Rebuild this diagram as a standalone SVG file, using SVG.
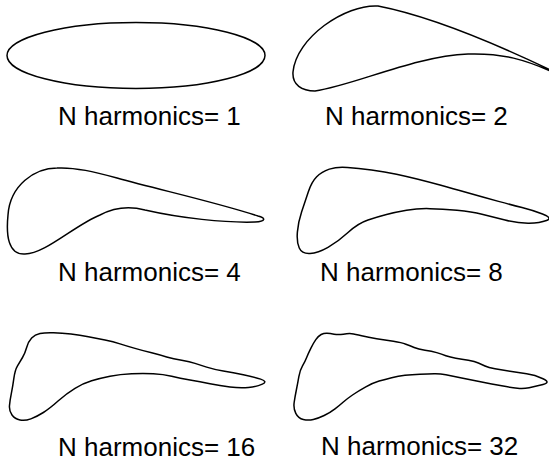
<svg xmlns="http://www.w3.org/2000/svg" width="549" height="458" viewBox="0 0 549 458">
<style>
.shape{fill:none;stroke:#000;stroke-width:1.5;stroke-linejoin:round}
.lbl{font-family:"Liberation Sans",Arial,sans-serif;font-size:26px;fill:#000}
</style>
<rect width="549" height="458" fill="#fff"/>
<g id="panel-n1">
<ellipse class="shape" cx="136" cy="55.5" rx="129" ry="33"/>
<text class="lbl" x="58" y="125">N harmonics= 1</text>
</g>
<g id="panel-n2">
<path class="shape" d="M 565 77 C 520 55, 440 18, 378 6 C 345 4, 296 38, 293 72 C 292 85, 302 91, 315 91 C 355 85, 415 56, 468 54 C 500 53, 525 58, 565 78 Z"/>
<text class="lbl" x="325" y="125">N harmonics= 2</text>
</g>
<g id="panel-n4">
<path class="shape" d="M 258 216 C 215 202, 160 190, 117 178 C 95 172, 75 167, 57 168 C 35 168, 10 185, 8 215 C 6 235, 8 255, 25 254 C 45 254, 75 225, 100 215 C 115 207, 130 206, 145 210 C 180 218, 225 223, 255 222 C 266 221.5, 266 218, 258 216 Z"/>
<text class="lbl" x="58" y="281">N harmonics= 4</text>
</g>
<g id="panel-n8">
<path class="shape" d="M 542.5 214 Q 532 210 522 207.5 Q 512 205 498.5 201.35 Q 485 197.7 468.5 193 Q 452 188.3 440 185 Q 428 181.7 418 179.2 Q 408 176.7 396.5 174.2 Q 385 171.7 371.5 170 Q 358 168.3 347.5 167.4 Q 337 166.5 329.35 169.1 Q 321.7 171.7 316.7 176.7 Q 311.7 181.7 308.35 191.7 Q 305 201.7 301.65 211.7 Q 298.3 221.7 297.4 231.85 Q 296.5 242 299.25 248 Q 302 254 310 253.5 Q 318 253 328 247.35 Q 338 241.7 348 232.5 Q 358 223.3 368 220 Q 378 216.7 386.5 214.5 Q 395 212.3 406.5 210.3 Q 418 208.3 430 208.65 Q 442 209 457 210.35 Q 472 211.7 482 214.2 Q 492 216.7 505 220 Q 518 223.3 529 223.15 Q 540 223 546.5 220.5 Q 553 218 542.5 214 Z"/>
<text class="lbl" x="320" y="281">N harmonics= 8</text>
</g>
<g id="panel-n16">
<path class="shape" d="M 260.65 379.1 Q 253.3 376.7 243.3 374.7 Q 233.3 372.7 223.3 371 Q 213.3 369.3 206.65 367.15 Q 200 365 195 363.35 Q 190 361.7 181.65 360.35 Q 173.3 359 166.65 357 Q 160 355 151.65 352.85 Q 143.3 350.7 135 348.35 Q 126.7 346 120 343.85 Q 113.3 341.7 105 340 Q 96.7 338.3 88.35 336.65 Q 80 335 71 334 Q 62 333 53.5 332.75 Q 45 332.5 40 333.5 Q 35 334.5 31.65 338.1 Q 28.3 341.7 26.65 347.5 Q 25 353.3 22.5 357.5 Q 20 361.7 17.5 365.85 Q 15 370 13.85 378.35 Q 12.7 386.7 11.35 393.35 Q 10 400 9.5 405.5 Q 9 411 12 415 Q 15 419 20 420 Q 25 421 30.85 418.85 Q 36.7 416.7 43.35 412.5 Q 50 408.3 58.35 400.8 Q 66.7 393.3 75 388.3 Q 83.3 383.3 91.65 380.8 Q 100 378.3 110 376.3 Q 120 374.3 131.65 373.8 Q 143.3 373.3 153.3 373.8 Q 163.3 374.3 171.65 376.3 Q 180 378.3 190 380 Q 200 381.7 210 383.7 Q 220 385.7 230 387 Q 240 388.3 248.35 387.5 Q 256.7 386.7 262.35 384.1 Q 268 381.5 260.65 379.1 Z"/>
<text class="lbl" x="58" y="455.5">N harmonics= 16</text>
</g>
<g id="panel-n32">
<path class="shape" d="M 543 378.75 Q 535 375 526.65 373.85 Q 518.3 372.7 510 371.35 Q 501.7 370 495 368.85 Q 488.3 367.7 485 366 Q 481.7 364.3 478.35 363 Q 475 361.7 468.35 360.35 Q 461.7 359 455.85 358.15 Q 450 357.3 445.85 355.8 Q 441.7 354.3 436.7 352.65 Q 431.7 351 425 350.15 Q 418.3 349.3 414.15 347.5 Q 410 345.7 405.85 344.2 Q 401.7 342.7 393.35 341.35 Q 385 340 376.65 338.65 Q 368.3 337.3 361.65 335.65 Q 355 334 351.65 333.65 Q 348.3 333.3 343.3 334.15 Q 338.3 335 334.15 334.15 Q 330 333.3 327 333.15 Q 324 333 321.15 334.5 Q 318.3 336 315.8 339.65 Q 313.3 343.3 310.8 348.3 Q 308.3 353.3 306.65 357.5 Q 305 361.7 302.5 365.85 Q 300 370 298.85 376.65 Q 297.7 383.3 296.35 390 Q 295 396.7 294.15 402.5 Q 293.3 408.3 295.8 413.3 Q 298.3 418.3 303.3 419.5 Q 308.3 420.7 313.3 419.5 Q 318.3 418.3 324.15 415.5 Q 330 412.7 335 408.85 Q 340 405 343.35 402 Q 346.7 399 352.5 395 Q 358.3 391 365.8 386.85 Q 373.3 382.7 379.15 381 Q 385 379.3 391.65 377.65 Q 398.3 376 405 375.35 Q 411.7 374.7 420 374.35 Q 428.3 374 434.15 373.85 Q 440 373.7 445.85 374.85 Q 451.7 376 461.7 378 Q 471.7 380 481.7 382 Q 491.7 384 501.7 385.85 Q 511.7 387.7 517.5 388.35 Q 523.3 389 529.15 387.85 Q 535 386.7 543 384.6 Q 551 382.5 543 378.75 Z"/>
<text class="lbl" x="321" y="455">N harmonics= 32</text>
</g>
</svg>
